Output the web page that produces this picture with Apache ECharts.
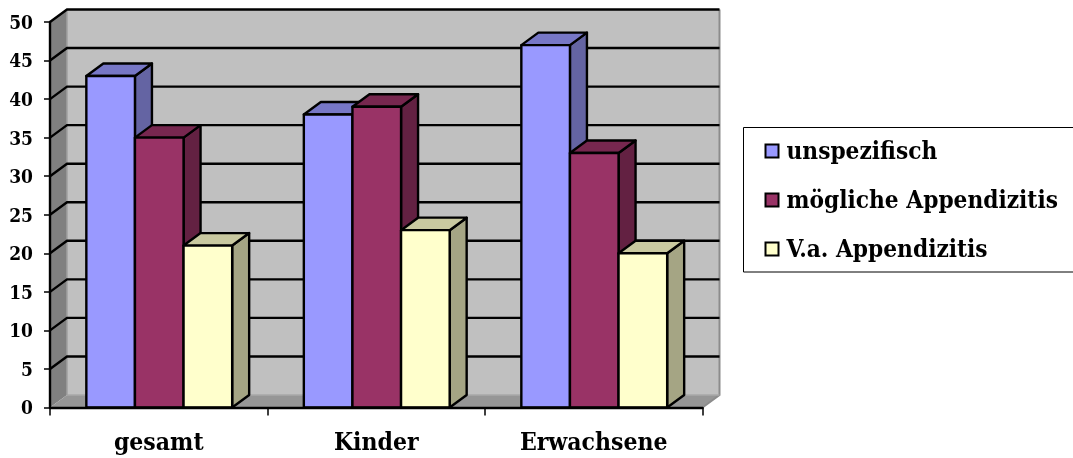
<!DOCTYPE html>
<html><head><meta charset="utf-8">
<style>html,body{margin:0;padding:0;background:#fff}#c{width:1073px;height:458px}</style>
<script src="https://cdn.jsdelivr.net/npm/echarts@6/dist/echarts.min.js"></script>
</head><body><div id="c"></div>
<script>
const categories = ['gesamt', 'Kinder', 'Erwachsene'];
const unspezifisch = [43, 38, 47];
const moeglich = [35, 39, 33];
const verdacht = [21, 23, 20];
const yTicks = [0, 5, 10, 15, 20, 25, 30, 35, 40, 45, 50];

const FONT = '"DejaVu Serif Condensed","DejaVu Serif",serif';
const DX = 17, DY = -12.5;
const chart = echarts.init(document.getElementById('c'), null, {renderer: 'canvas'});

function wallItem(params, api) {
  const c = params.coordSys;
  const l = c.x, r = c.x + c.width, t = c.y, b = c.y + c.height;
  return {type: 'group', children: [
    {type: 'polygon', shape: {points: [[l, t], [l + DX, t + DY], [l + DX, b + DY], [l, b]]},
      style: {fill: '#808080', stroke: null}},
    {type: 'polygon', shape: {points: [[l, b], [l + DX, b + DY], [r + DX, b + DY], [r, b]]},
      style: {fill: '#969696', stroke: null}},
    {type: 'rect', shape: {x: l + DX, y: t + DY, width: c.width, height: c.height},
      style: {fill: '#c0c0c0', stroke: null}},
    {type: 'polyline', shape: {points: [[r + DX, t + DY], [r + DX, b + DY], [r, b]]},
      style: {fill: null, stroke: '#8c8c8c', lineWidth: 2}},
    {type: 'line', shape: {x1: l + DX, y1: b + DY, x2: r + DX, y2: b + DY},
      style: {stroke: '#a8a8a8', lineWidth: 1.5}},
    {type: 'line', shape: {x1: l + DX, y1: t + DY, x2: l + DX, y2: b + DY},
      style: {stroke: '#a0a0a0', lineWidth: 1.5}}
  ]};
}
function gridItem(params, api) {
  const c = params.coordSys;
  const y = api.coord([0, api.value(1)])[1];
  const l = c.x, r = c.x + c.width;
  return {type: 'polyline', shape: {points: [[l, y], [l + DX, y + DY], [r + DX, y + DY]]},
    style: {fill: null, stroke: '#000', lineWidth: 2.4}};
}
function barRender(slot, front, top, side) {
  return function (params, api) {
    const p = api.coord([api.value(0), api.value(1)]);
    const base = api.coord([api.value(0), 0])[1];
    const w = api.size([1, 0])[0] * 0.2235;
    const x0 = p[0] + 0.5 + (slot - 1.5) * w, x1 = x0 + w, y = p[1];
    const st = c => ({fill: c, stroke: '#000', lineWidth: 2.4, lineJoin: 'round'});
    return {type: 'group', children: [
      {type: 'polygon', shape: {points: [[x1, y], [x1 + DX, y + DY], [x1 + DX, base + DY], [x1, base]]}, style: st(side)},
      {type: 'polygon', shape: {points: [[x0, y], [x0 + DX, y + DY], [x1 + DX, y + DY], [x1, y]]}, style: st(top)},
      {type: 'rect', shape: {x: x0, y: y, width: w, height: base - y}, style: st(front)}
    ]};
  };
}
const barSeries = (name, values, slot, front, top, side) => ({
  type: 'custom', name, z: 5, coordinateSystem: 'cartesian2d',
  itemStyle: {color: front},
  encode: {x: 0, y: 1},
  data: values.map((v, i) => [i, v]),
  renderItem: barRender(slot, front, top, side)
});

chart.setOption({
  animation: false,
  backgroundColor: '#fff',
  grid: {left: 50, top: 22, width: 652.5, height: 385.5},
  xAxis: {type: 'category', data: categories, z: 10,
    axisLine: {lineStyle: {color: '#000', width: 2.4}},
    axisTick: {show: true, alignWithLabel: false, length: 8, lineStyle: {color: '#000', width: 1.5}},
    axisLabel: {color: '#000', fontFamily: FONT, fontWeight: 'bold', fontSize: 24.5, margin: 22, lineHeight: 28},
    splitLine: {show: false}},
  yAxis: {type: 'value', min: 0, max: 50, interval: 5, z: 10,
    axisLine: {show: true, lineStyle: {color: '#000', width: 2.4}},
    axisTick: {show: true, length: 6, lineStyle: {color: '#000', width: 1.5}},
    axisLabel: {color: '#000', fontFamily: FONT, fontWeight: 'bold', fontSize: 19, margin: 17, verticalAlign: 'top', lineHeight: 4},
    splitLine: {show: false}},
  legend: {
    show: true, orient: 'vertical', left: 743.5, top: 127.5,
    backgroundColor: '#fff', borderColor: '#000', borderWidth: 1,
    padding: [9.5, 40, 9, 21], itemGap: 21, itemWidth: 13, itemHeight: 13,
    icon: 'rect', selectedMode: false,
    itemStyle: {borderColor: '#000', borderWidth: 2},
    formatter: '{t|{name}}',
    textStyle: {color: '#000', fontFamily: FONT, fontWeight: 'bold', fontSize: 24.2,
      rich: {t: {color: '#000', fontFamily: FONT, fontWeight: 'bold', fontSize: 24.2, lineHeight: 24, padding: [4, 0, 0, 3]}}},
    data: ['unspezifisch', 'mögliche Appendizitis', 'V.a. Appendizitis']
  },
  series: [
    {type: 'custom', name: 'wall', z: 1, data: [[0, 0]], encode: {x: 0, y: 1}, renderItem: wallItem, silent: true},
    {type: 'custom', name: 'grid', z: 2, data: yTicks.map(v => [0, v]).filter(d => d[1] > 0), encode: {x: 0, y: 1}, renderItem: gridItem, silent: true},
    barSeries('unspezifisch', unspezifisch, 0, '#9999ff', '#7777c6', '#6464a3'),
    barSeries('mögliche Appendizitis', moeglich, 1, '#993366', '#77274f', '#632142'),
    barSeries('V.a. Appendizitis', verdacht, 2, '#ffffcc', '#c9c9a0', '#a5a584')
  ]
});
</script></body></html>
